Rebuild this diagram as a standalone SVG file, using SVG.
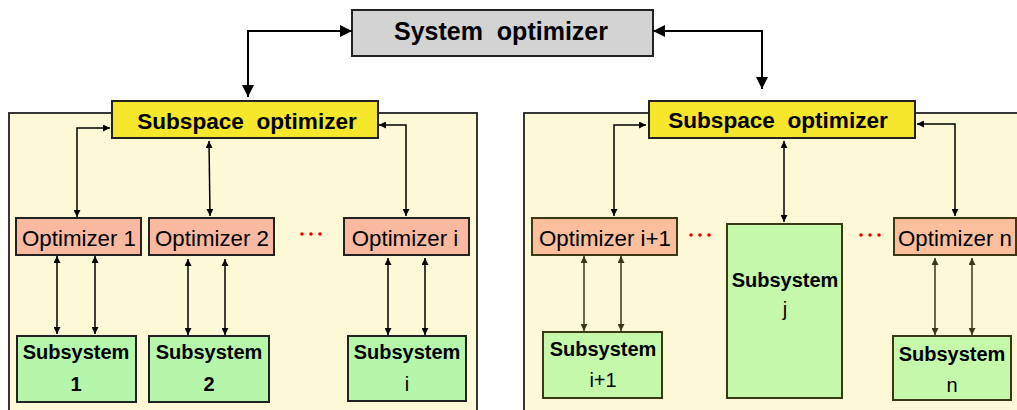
<svg xmlns="http://www.w3.org/2000/svg" width="1017" height="410" viewBox="0 0 1017 410">
<defs>
<marker id="big" viewBox="0 0 12 12" refX="12" refY="6" markerWidth="12" markerHeight="12" markerUnits="userSpaceOnUse" orient="auto-start-reverse"><path d="M0,0 L12,6 L0,12 z" fill="#000"/></marker>
<marker id="sm" viewBox="0 0 8 8" refX="8" refY="4" markerWidth="7" markerHeight="7" markerUnits="userSpaceOnUse" orient="auto-start-reverse"><path d="M0,0 L8,4 L0,8 z" fill="#000"/></marker>
<marker id="smo" viewBox="0 0 8 8" refX="8" refY="4" markerWidth="7" markerHeight="7" markerUnits="userSpaceOnUse" orient="auto-start-reverse"><path d="M0,0 L8,4 L0,8 z" fill="#3a3815"/></marker>
<style>
text{font-family:"Liberation Sans",Arial,sans-serif;fill:#000;text-anchor:middle}
.b{font-weight:bold}
.cont{fill:#fdf8d6;stroke:#222;stroke-width:1.8}
.sub{fill:#f6e62c;stroke:#222;stroke-width:2}
.opt{fill:#f9b8a0;stroke:#222;stroke-width:2}
.opt2{fill:#fbbf9e;stroke:#3a3815;stroke-width:2}
.ss{fill:#b6f6aa;stroke:#222;stroke-width:2}
.ss2{fill:#c6f8ab;stroke:#3a3815;stroke-width:2}
.big{fill:none;stroke:#000;stroke-width:2;marker-start:url(#big);marker-end:url(#big)}
.c{fill:none;stroke:#000;stroke-width:1.5;marker-start:url(#sm);marker-end:url(#sm)}
.co{fill:none;stroke:#3a3815;stroke-width:1.5;marker-start:url(#smo);marker-end:url(#smo)}
.dot{fill:#e00}
</style>
</defs>
<rect width="1017" height="410" fill="#fff"/>
<rect class="cont" x="9" y="113" width="468" height="305"/>
<rect class="cont" x="524" y="113" width="500" height="305"/>
<g id="system-optimizer"><rect x="352" y="10" width="301" height="46" fill="#d3d3d3" stroke="#222" stroke-width="2"/><text class="b" x="501" y="40" font-size="25" style="white-space:pre">System  optimizer</text></g>
<g id="subspace-left"><rect class="sub" x="112" y="101" width="266" height="37"/><text class="b" x="247" y="129" font-size="22.6" style="white-space:pre">Subspace  optimizer</text></g>
<g id="subspace-right"><rect class="sub" x="649" y="101" width="266" height="37"/><text class="b" x="778" y="128" font-size="22.6" style="white-space:pre">Subspace  optimizer</text></g>
<g id="opt1"><rect class="opt" x="16" y="218" width="125" height="37"/><text x="79" y="246" font-size="22.3">Optimizer 1</text></g>
<g id="opt2"><rect class="opt" x="149" y="218" width="125" height="37"/><text x="212" y="246" font-size="22.3">Optimizer 2</text></g>
<g id="opti"><rect class="opt" x="344" y="218" width="125" height="37"/><text x="405" y="246" font-size="22.3">Optimizer i</text></g>
<g id="opti1"><rect class="opt2" x="532" y="218" width="145" height="37"/><text x="605" y="246" font-size="22.3">Optimizer i+1</text></g>
<g id="optn"><rect class="opt2" x="894" y="218" width="122" height="37"/><text x="955" y="246" font-size="22.3">Optimizer n</text></g>
<g id="ss1"><rect class="ss" x="17" y="336" width="119" height="66"/><text class="b" x="76" y="359" font-size="20">Subsystem</text><text class="b" x="76" y="391" font-size="20">1</text></g>
<g id="ss2"><rect class="ss" x="149" y="336" width="120" height="66"/><text class="b" x="209" y="359" font-size="20">Subsystem</text><text class="b" x="209" y="391" font-size="20">2</text></g>
<g id="ssi"><rect class="ss" x="348" y="336" width="118" height="65"/><text class="b" x="407" y="359" font-size="20">Subsystem</text><text x="407" y="391" font-size="20">i</text></g>
<g id="ssi1"><rect class="ss2" x="543" y="332" width="119" height="66"/><text class="b" x="603" y="356" font-size="20">Subsystem</text><text x="603" y="387" font-size="20">i+1</text></g>
<g id="ssj"><rect class="ss2" x="727" y="224" width="115" height="174"/><text class="b" x="785" y="287" font-size="20">Subsystem</text><text x="785" y="316" font-size="20">j</text></g>
<g id="ssn"><rect class="ss2" x="893" y="336" width="118" height="64"/><text class="b" x="952" y="361" font-size="20">Subsystem</text><text x="952" y="392" font-size="20">n</text></g>
<g id="dots">
<circle class="dot" cx="302" cy="234" r="1.8"/><circle class="dot" cx="311" cy="234" r="1.8"/><circle class="dot" cx="320" cy="234" r="1.8"/>
<circle class="dot" cx="691" cy="235" r="1.8"/><circle class="dot" cx="700" cy="235" r="1.8"/><circle class="dot" cx="709" cy="235" r="1.8"/>
<circle class="dot" cx="861" cy="235" r="1.8"/><circle class="dot" cx="870" cy="235" r="1.8"/><circle class="dot" cx="879" cy="235" r="1.8"/>
</g>
<g id="connectors">
<path class="big" d="M352,31 H248 V97"/>
<path class="big" d="M653,31 H762 V89"/>
<path class="c" d="M110,128 H77 V217"/>
<path class="c" d="M209,141 L210,216"/>
<path class="c" d="M379,125 H406 V216"/>
<path class="c" d="M57,256 V334"/>
<path class="c" d="M95,256 V334"/>
<path class="c" d="M188,259 V335"/>
<path class="c" d="M225,259 V335"/>
<path class="c" d="M388,258 V335"/>
<path class="c" d="M425,258 V335"/>
<path class="c" d="M646,125 H614 V216"/>
<path class="c" d="M784,141 V222"/>
<path class="c" d="M917,124 H955 V216"/>
<path class="co" d="M584,256 V331"/>
<path class="co" d="M621,256 V331"/>
<path class="co" d="M935,258 V335"/>
<path class="co" d="M972,258 V335"/>
</g>
</svg>
